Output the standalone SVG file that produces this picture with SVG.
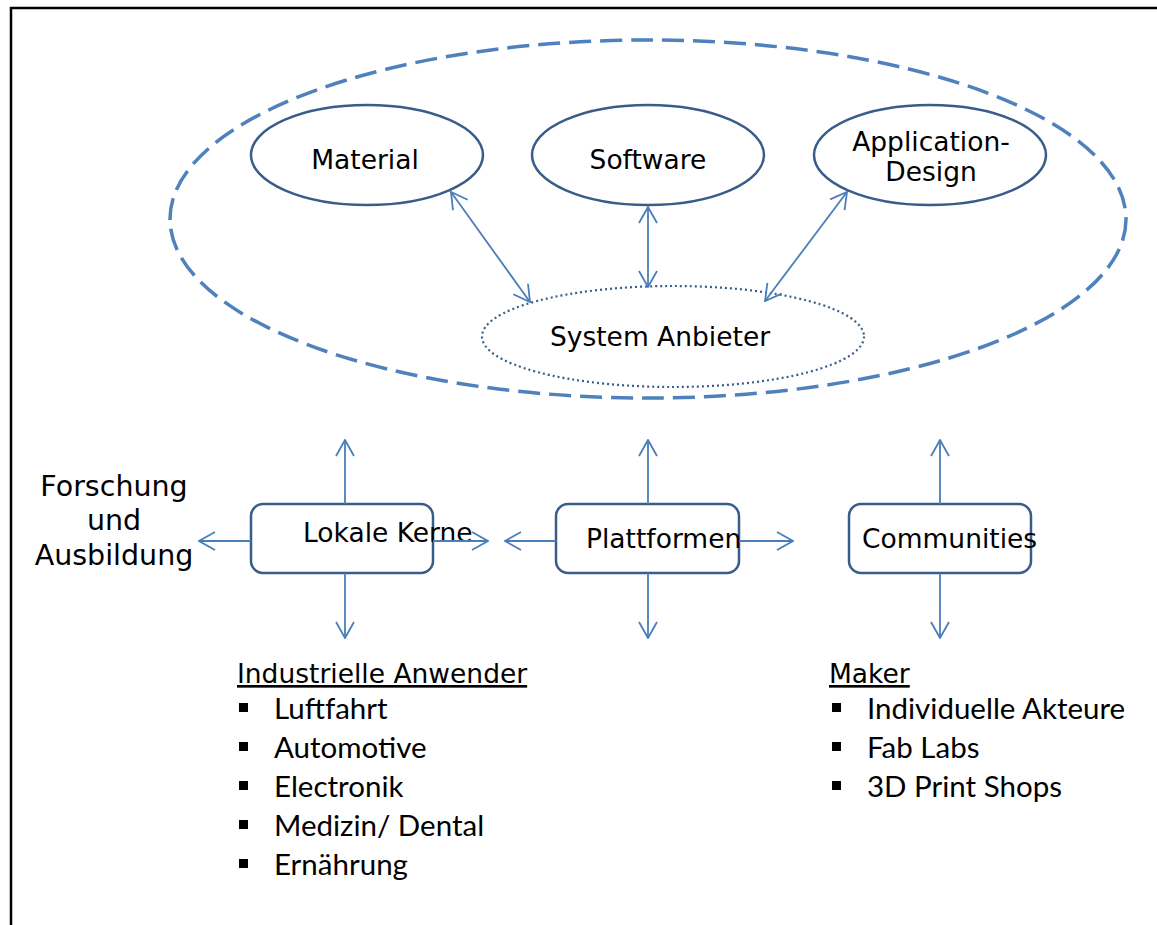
<svg xmlns="http://www.w3.org/2000/svg" width="1157" height="925" viewBox="0 0 1157 925">
<style>
.t{font-family:"DejaVu Sans",Verdana,sans-serif;font-size:26.5px;fill:#000}
.l{font-family:Lato,"Liberation Sans",sans-serif;font-size:29.5px;fill:#000}
.node{fill:#fff;stroke:#385d8a;stroke-width:2.5}
.ar{fill:none;stroke:#4a7ebb;stroke-width:1.8;marker-end:url(#ah);marker-start:url(#ah)}
.ar1{fill:none;stroke:#4a7ebb;stroke-width:1.8;marker-end:url(#ah)}
</style>
<defs>
<marker id="ah" viewBox="0 0 18 20" refX="17" refY="10" markerWidth="18" markerHeight="20" markerUnits="userSpaceOnUse" orient="auto-start-reverse">
<path d="M1,1 L17,10 L1,19" fill="none" stroke="#4a7ebb" stroke-width="1.8"/>
</marker>
</defs>
<rect width="1157" height="925" fill="#fff"/>
<g id="frame">
<path d="M11,925 V8 H1157" fill="none" stroke="#000" stroke-width="2.5"/>
</g>
<g id="ecosystem">
<ellipse cx="648" cy="219" rx="478" ry="179" fill="none" stroke="#4f81bd" stroke-width="3.5" stroke-dasharray="22 9"/>
</g>
<g id="material">
<ellipse class="node" cx="367" cy="155" rx="116" ry="50"/>
<text class="t" x="365" y="169" text-anchor="middle">Material</text>
</g>
<g id="software">
<ellipse class="node" cx="648" cy="155" rx="116" ry="50"/>
<text class="t" x="648" y="169" text-anchor="middle">Software</text>
</g>
<g id="application-design">
<ellipse class="node" cx="930" cy="155" rx="116" ry="50"/>
<text class="t" x="931" y="151" text-anchor="middle">Application-</text>
<text class="t" x="931" y="181" text-anchor="middle">Design</text>
</g>
<g id="system-anbieter">
<ellipse cx="673" cy="336.5" rx="191" ry="50.5" fill="#fff" stroke="#385d8a" stroke-width="2.2" stroke-dasharray="2 3"/>
<text class="t" x="660" y="346" text-anchor="middle">System Anbieter</text>
</g>
<g id="lokale-kerne">
<rect class="node" x="251" y="504" width="182" height="69" rx="12"/>
<text class="t" x="303" y="542">Lokale Kerne</text>
</g>
<g id="plattformen">
<rect class="node" x="556" y="504" width="183" height="69" rx="12"/>
<text class="t" x="586" y="548">Plattformen</text>
</g>
<g id="communities">
<rect class="node" x="849" y="504" width="182" height="69" rx="12"/>
<text class="t" x="862" y="548">Communities</text>
</g>
<g id="connectors">
<line class="ar" x1="451" y1="192" x2="530" y2="302"/>
<line class="ar" x1="648" y1="207" x2="648" y2="287"/>
<line class="ar" x1="847" y1="192" x2="765" y2="301"/>
<line class="ar1" x1="345" y1="504" x2="345" y2="440"/>
<line class="ar1" x1="345" y1="573" x2="345" y2="638"/>
<line class="ar1" x1="251" y1="541" x2="199" y2="541"/>
<line class="ar1" x1="433" y1="541" x2="488" y2="541"/>
<line class="ar1" x1="648" y1="504" x2="648" y2="440"/>
<line class="ar1" x1="648" y1="573" x2="648" y2="638"/>
<line class="ar1" x1="556" y1="541" x2="505" y2="541"/>
<line class="ar1" x1="739" y1="541" x2="793" y2="541"/>
<line class="ar1" x1="940" y1="504" x2="940" y2="440"/>
<line class="ar1" x1="940" y1="573" x2="940" y2="638"/>
</g>
<g id="forschung">
<text class="t" x="114" y="496" text-anchor="middle" style="font-size:28.5px">Forschung</text>
<text class="t" x="114" y="530" text-anchor="middle" style="font-size:28.5px">und</text>
<text class="t" x="114" y="565" text-anchor="middle" style="font-size:28.5px">Ausbildung</text>
</g>
<g id="industrielle-anwender">
<text class="t" x="237" y="683" text-decoration="underline">Industrielle Anwender</text>
<rect x="239" y="703" width="9" height="9"/>
<text class="l" x="274" y="719">Luftfahrt</text>
<rect x="239" y="742" width="9" height="9"/>
<text class="l" x="274" y="758">Automotive</text>
<rect x="239" y="781" width="9" height="9"/>
<text class="l" x="274" y="797">Electronik</text>
<rect x="239" y="820" width="9" height="9"/>
<text class="l" x="274" y="836">Medizin/ Dental</text>
<rect x="239" y="859" width="9" height="9"/>
<text class="l" x="274" y="875">Ernährung</text>
</g>
<g id="maker">
<text class="t" x="829" y="683" text-decoration="underline">Maker</text>
<rect x="832" y="703" width="9" height="9"/>
<text class="l" x="867" y="719">Individuelle Akteure</text>
<rect x="832" y="742" width="9" height="9"/>
<text class="l" x="867" y="758">Fab Labs</text>
<rect x="832" y="781" width="9" height="9"/>
<text class="l" x="867" y="797">3D Print Shops</text>
</g>
</svg>
